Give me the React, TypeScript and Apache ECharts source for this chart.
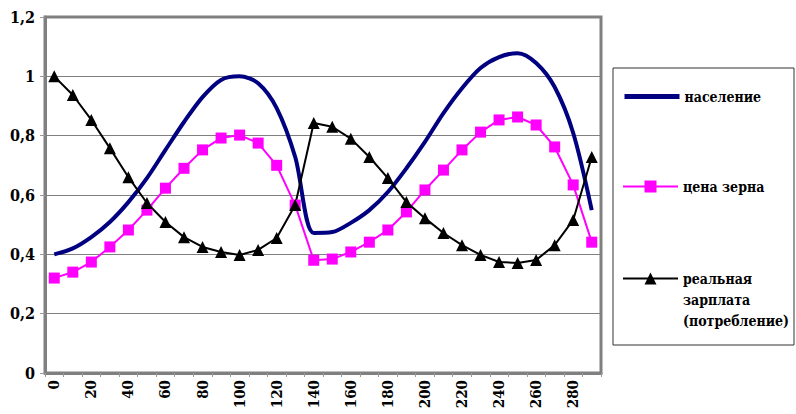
import React, { useEffect, useRef } from "react";
import * as echarts from "echarts";

const categories = Array.from({ length: 30 }, (_, i) => String(i * 10));
// note: categories are the time steps 0,10,...,290 shown on the x axis
const population = [0.4, 0.42, 0.458, 0.509, 0.576, 0.657, 0.752, 0.846, 0.93, 0.988, 1.0, 0.977, 0.893, 0.728, 0.472, 0.475, 0.506, 0.549, 0.61, 0.69, 0.779, 0.876, 0.96, 1.028, 1.065, 1.078, 1.045, 0.964, 0.809, 0.549];
const grainPrice = [0.32, 0.34, 0.374, 0.425, 0.482, 0.549, 0.623, 0.69, 0.752, 0.792, 0.802, 0.775, 0.7, 0.566, 0.38, 0.384, 0.408, 0.441, 0.482, 0.543, 0.617, 0.684, 0.752, 0.812, 0.853, 0.863, 0.836, 0.762, 0.634, 0.441];
const realWage = [1.0, 0.937, 0.853, 0.758, 0.66, 0.573, 0.509, 0.458, 0.425, 0.408, 0.398, 0.415, 0.455, 0.566, 0.843, 0.83, 0.79, 0.728, 0.657, 0.576, 0.522, 0.472, 0.431, 0.398, 0.374, 0.371, 0.381, 0.431, 0.516, 0.728];

const NAME_POP = "население";
const NAME_PRICE = "цена зерна";
const NAME_WAGE = "реальная\nзарплата\n(потребление)";

const FONT = "'DejaVu Serif Condensed', 'DejaVu Serif'";

export default function App() {
  const ref = useRef<HTMLDivElement>(null);
  useEffect(() => {
    document.body.style.margin = "0";
    if (!ref.current) return;
    const chart = echarts.init(ref.current, null, { renderer: "svg" });
    const legendText = {
      fontFamily: FONT,
      fontWeight: "bold" as const,
      fontSize: 14,
      color: "#000",
      lineHeight: 21,
    };
    chart.setOption({
      animation: false,
      backgroundColor: "#fff",
      textStyle: { fontFamily: FONT },
      grid: {
        left: 45,
        right: 195,
        top: 17,
        bottom: 41,
        show: true,
        borderColor: "#808080",
        borderWidth: 3,
        backgroundColor: "#fff",
      },
      xAxis: {
        type: "category",
        data: categories,
        boundaryGap: true,
        axisLine: { show: true, lineStyle: { color: "#808080", width: 3 } },
        axisTick: { show: true, interval: 0, length: 4, lineStyle: { color: "#999", width: 1 } },
        axisLabel: {
          interval: 1,
          rotate: 90,
          margin: 7,
          fontFamily: FONT,
          fontWeight: "bold",
          fontSize: 15,
          color: "#000",
        },
        splitLine: { show: false },
      },
      yAxis: {
        type: "value",
        min: 0,
        max: 1.2,
        interval: 0.2,
        axisLine: { show: true, lineStyle: { color: "#808080", width: 3 } },
        axisTick: { show: true, length: 5, lineStyle: { color: "#999", width: 1 } },
        axisLabel: {
          margin: 10,
          fontFamily: FONT,
          fontWeight: "bold",
          fontSize: 16,
          color: "#000",
          formatter: (v: number) => String(Math.round(v * 10) / 10).replace(".", ","),
        },
        splitLine: { show: true, lineStyle: { color: "#808080", width: 1 } },
      },
      legend: [
        {
          data: [NAME_POP],
          orient: "vertical",
          left: 617,
          top: 81,
          itemWidth: 55,
          itemHeight: 15,
          itemStyle: { opacity: 0 },
          lineStyle: { width: 5 },
          textStyle: legendText,
        },
        {
          data: [NAME_PRICE],
          orient: "vertical",
          left: 617,
          top: 171,
          itemWidth: 55,
          itemHeight: 15,
          textStyle: legendText,
        },
        {
          data: [NAME_WAGE],
          orient: "vertical",
          left: 617,
          top: 221,
          itemWidth: 55,
          itemHeight: 15,
          formatter: (n: string) => "\n\n" + n,
          textStyle: legendText,
        },
      ],
      graphic: [
        {
          type: "rect",
          shape: { x: 613, y: 68, width: 181, height: 277 },
          style: { fill: "none", stroke: "#333", lineWidth: 1 },
          z: -1,
        },
      ],
      series: [
        {
          name: NAME_POP,
          type: "line",
          data: population,
          smooth: 0.3,
          symbol: "none",
          lineStyle: { color: "#000080", width: 4 },
          itemStyle: { color: "#000080" },
        },
        {
          name: NAME_PRICE,
          type: "line",
          data: grainPrice,
          symbol: "rect",
          symbolSize: 11,
          lineStyle: { color: "#ff00ff", width: 2 },
          itemStyle: { color: "#ff00ff" },
        },
        {
          name: NAME_WAGE,
          type: "line",
          data: realWage,
          symbol: "triangle",
          symbolSize: 12,
          lineStyle: { color: "#000", width: 2 },
          itemStyle: { color: "#000" },
        },
      ],
    });
    return () => chart.dispose();
  }, []);
  return <div ref={ref} style={{ width: 796, height: 414 }} />;
}
